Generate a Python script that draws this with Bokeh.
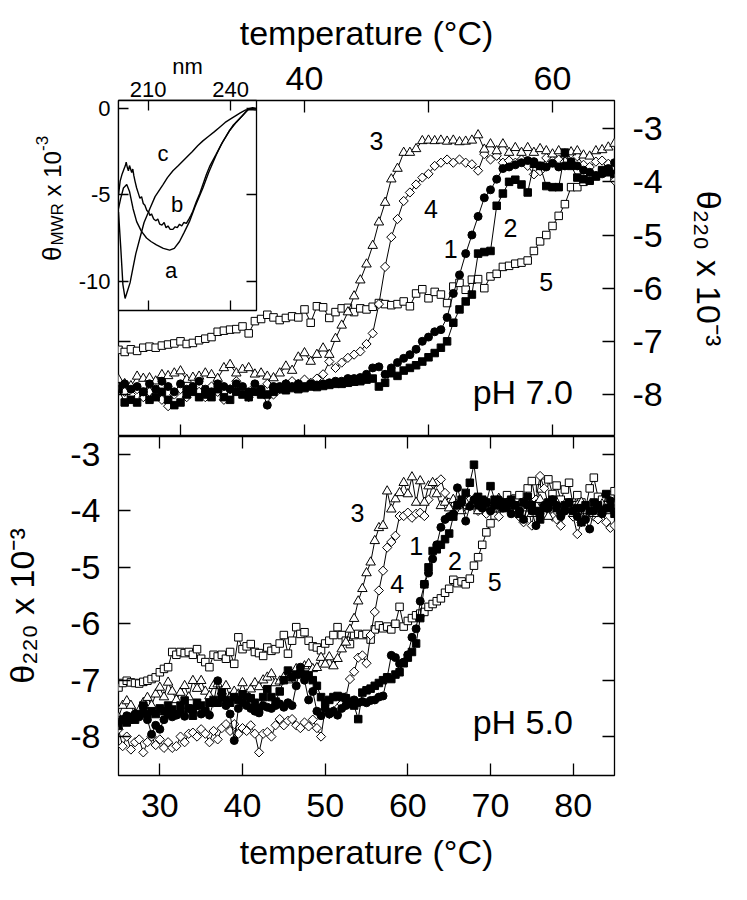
import numpy as np
from bokeh.plotting import figure
from bokeh.models import LinearAxis, FixedTicker, Range1d, Label, GridBox
from bokeh.embed import file_html
from bokeh.resources import INLINE

FONT = "Liberation Sans"

# ---------------- data ----------------
# sampling grids (instrument steps of 0.5 degC)
T_TOP = np.arange(25.0, 65.01, 0.5)   # pH 7.0 panel
T_BOT = np.arange(25.0, 85.01, 0.5)   # pH 5.0 panel

# pH 7.0 (top panel), theta220 x 1e-3
top_s1 = [-7.85, -7.80, -7.90, -7.85, -7.95, -7.80, -7.90, -7.75, -7.85, -7.95,
          -7.80, -7.90, -7.85, -7.75, -7.90, -7.95, -7.80, -7.85, -7.90, -7.80,
          -7.85, -7.95, -7.80, -7.90, -8.20, -7.85, -7.85, -7.80, -7.85, -7.80,
          -7.85, -7.80, -7.82, -7.80, -7.78, -7.75, -7.75, -7.70, -7.70, -7.68,
          -7.62, -7.50, -7.48, -7.62, -7.50, -7.40, -7.32, -7.25, -7.15, -7.00,
          -6.92, -6.82, -6.78, -6.55, -6.10, -5.75, -5.35, -5.00, -4.65, -4.30,
          -4.15, -3.95, -3.75, -3.72, -3.68, -3.64, -3.60, -3.62, -3.70, -3.72,
          -3.65, -3.72, -3.70, -3.62, -3.70, -3.78, -3.82, -3.88, -3.85, -3.75,
          -3.64]
top_s2 = [-7.90, -8.15, -8.10, -8.15, -7.95, -8.10, -8.05, -7.95, -8.10, -8.20,
          -8.15, -8.00, -7.95, -8.05, -8.00, -8.05, -7.90, -8.05, -8.10, -7.95,
          -8.00, -8.05, -7.95, -8.00, -8.00, -7.95, -7.90, -7.92, -7.88, -7.90,
          -7.88, -7.85, -7.86, -7.84, -7.82, -7.80, -7.80, -7.78, -7.76, -7.75,
          -7.72, -7.70, -7.85, -7.78, -7.60, -7.65, -7.55, -7.50, -7.45, -7.38,
          -7.30, -7.22, -7.12, -7.00, -6.65, -6.40, -6.25, -6.12, -5.35, -5.32,
          -5.30, -4.45, -4.22, -4.00, -3.96, -4.05, -4.20, -3.66, -3.70, -4.08,
          -4.10, -4.10, -3.45, -3.70, -3.92, -3.95, -3.98, -3.90, -3.78, -3.82,
          -3.85]
top_s3 = [-7.72, -7.80, -7.84, -7.66, -7.70, -7.69, -7.75, -7.63, -7.65, -7.60,
          -7.56, -7.72, -7.68, -7.66, -7.60, -7.63, -7.70, -7.50, -7.44, -7.60,
          -7.53, -7.50, -7.62, -7.60, -7.66, -7.69, -7.60, -7.47, -7.55, -7.30,
          -7.22, -7.38, -7.25, -7.13, -7.25, -6.95, -6.70, -6.45, -6.15, -5.85,
          -5.55, -5.20, -4.76, -4.39, -3.95, -3.75, -3.45, -3.45, -3.38, -3.23,
          -3.22, -3.23, -3.22, -3.24, -3.22, -3.25, -3.24, -3.22, -3.12, -3.39,
          -3.29, -3.42, -3.29, -3.45, -3.36, -3.45, -3.36, -3.45, -3.38, -3.42,
          -3.48, -3.42, -3.48, -3.44, -3.42, -3.50, -3.52, -3.42, -3.40, -3.35,
          -3.28]
top_s4 = [-7.85, -7.95, -8.00, -7.90, -8.05, -7.95, -8.00, -8.10, -8.22, -8.00,
          -7.90, -8.05, -7.90, -7.95, -8.05, -7.85, -7.95, -8.10, -7.90, -7.75,
          -7.95, -8.05, -7.85, -7.95, -7.80, -8.00, -7.90, -7.80, -7.75, -7.80,
          -7.72, -7.78, -7.70, -7.62, -7.38, -7.50, -7.40, -7.31, -7.25, -7.19,
          -7.05, -6.85, -6.30, -5.60, -5.04, -4.70, -4.36, -4.20, -4.05, -3.92,
          -3.85, -3.70, -3.64, -3.58, -3.64, -3.58, -3.64, -3.67, -3.79, -3.48,
          -3.58, -3.51, -3.64, -3.60, -3.64, -3.58, -3.70, -3.86, -3.80, -3.55,
          -3.60, -3.58, -3.62, -3.64, -3.52, -3.68, -3.72, -3.62, -3.60, -3.66,
          -3.98]
top_s5 = [-7.16, -7.20, -7.15, -7.18, -7.12, -7.10, -7.12, -7.08, -7.06, -7.04,
          -7.00, -7.05, -7.03, -6.98, -6.95, -6.92, -6.82, -6.80, -6.78, -6.77,
          -6.72, -6.85, -6.62, -6.58, -6.50, -6.55, -6.60, -6.56, -6.53, -6.55,
          -6.40, -6.65, -6.34, -6.36, -6.56, -6.45, -6.38, -6.37, -6.45, -6.38,
          -6.40, -6.35, -6.28, -6.30, -6.32, -6.30, -6.25, -6.34, -6.10, -6.02,
          -6.19, -6.07, -6.12, -6.28, -5.97, -5.90, -6.03, -5.84, -5.83, -6.00,
          -5.78, -5.73, -5.60, -5.58, -5.54, -5.52, -5.48, -5.30, -5.12, -5.00,
          -4.83, -4.64, -4.42, -4.10, -4.10, -4.00, -3.95, -3.89, -3.82, -3.76,
          -3.92]

# pH 5.0 (bottom panel)
bot_s1 = [-7.75, -7.70, -7.63, -7.70, -7.60, -7.65, -7.57, -7.70, -7.96, -7.80,
          -7.87, -7.70, -7.60, -7.65, -7.62, -7.55, -7.64, -7.50, -7.55, -7.45,
          -7.60, -7.55, -7.62, -7.40, -7.01, -7.30, -7.45, -7.60, -8.07, -7.50,
          -7.40, -7.45, -7.50, -7.55, -7.58, -7.45, -7.48, -7.50, -7.45, -7.42,
          -7.48, -7.40, -7.45, -7.10, -6.77, -7.00, -7.35, -7.20, -7.55, -7.63,
          -7.50, -7.60, -7.55, -7.62, -7.50, -7.45, -7.42, -7.35, -7.40, -7.38,
          -7.40, -7.36, -7.35, -7.30, -7.28, -6.95, -6.56, -6.60, -6.71, -6.68,
          -6.55, -6.24, -6.09, -5.60, -5.30, -5.10, -4.85, -4.60, -4.29, -4.15,
          -4.10, -4.05, -3.59, -3.85, -4.18, -3.92, -3.80, -3.90, -3.95, -3.85,
          -4.00, -3.90, -3.80, -3.95, -3.88, -4.05, -3.90, -4.00, -4.15, -3.90,
          -4.00, -4.26, -4.05, -3.90, -3.95, -3.80, -3.90, -4.10, -4.00, -3.85,
          -4.00, -4.10, -3.95, -4.15, -4.32, -4.00, -3.90, -4.05, -3.95, -3.82,
          -3.90]
bot_s2 = [-7.81, -7.70, -7.75, -7.65, -7.70, -7.60, -7.45, -7.60, -7.55, -7.60,
          -7.50, -7.55, -7.45, -7.52, -7.60, -7.45, -7.36, -7.50, -7.63, -7.40,
          -7.45, -7.55, -7.40, -7.35, -7.40, -7.22, -7.35, -7.40, -7.30, -7.35,
          -7.25, -7.30, -7.32, -7.40, -7.50, -7.30, -7.16, -7.30, -7.38, -7.20,
          -7.00, -6.83, -6.95, -6.90, -6.88, -6.90, -6.92, -7.00, -7.10, -7.30,
          -7.40, -7.35, -7.30, -7.28, -7.30, -7.32, -7.40, -7.45, -7.69, -7.22,
          -7.18, -7.15, -7.10, -7.05, -7.00, -6.95, -6.98, -6.90, -6.86, -6.70,
          -6.60, -6.50, -6.35, -5.90, -5.30, -5.00, -4.71, -4.68, -4.60, -4.50,
          -4.40, -4.10, -3.90, -3.80, -3.68, -3.50, -3.18, -3.75, -3.80, -3.85,
          -3.56, -3.80, -3.90, -3.85, -3.95, -3.80, -3.90, -4.05, -3.85, -3.75,
          -3.90, -4.00, -4.15, -3.95, -3.85, -3.80, -3.95, -4.05, -3.90, -3.85,
          -4.00, -3.95, -4.20, -3.90, -4.00, -3.85, -3.90, -4.00, -3.70, -3.95,
          -4.05]
bot_s3 = [-7.66, -7.45, -7.37, -7.45, -7.60, -7.54, -7.40, -7.31, -7.45, -7.25,
          -7.13, -7.30, -7.04, -7.20, -7.35, -7.22, -7.10, -7.30, -7.01, -7.15,
          -7.01, -7.20, -7.28, -7.10, -7.07, -7.20, -7.10, -7.30, -7.20, -7.25,
          -7.05, -7.25, -7.16, -7.05, -7.12, -7.00, -6.95, -6.89, -7.05, -7.02,
          -6.95, -7.00, -6.90, -6.80, -6.85, -6.75, -6.71, -6.80, -6.78, -6.60,
          -6.72, -6.59, -6.75, -6.62, -6.45, -6.33, -6.10, -5.91, -5.60, -5.38,
          -5.10, -4.91, -4.53, -4.30, -4.26, -3.65, -3.97, -3.79, -3.68, -3.50,
          -3.70, -3.40, -3.85, -3.47, -3.85, -3.56, -3.50, -3.70, -3.91, -3.85,
          -3.95, -3.80, -3.90, -4.00, -3.85, -3.92, -3.80, -4.00, -3.90, -3.85,
          -3.95, -3.88, -3.78, -3.95, -3.90, -3.82, -4.00, -3.90, -3.85, -3.95,
          -4.05, -3.90, -3.80, -3.95, -4.10, -3.90, -3.85, -4.00, -3.88, -3.95,
          -4.05, -3.90, -3.85, -4.00, -3.90, -4.05, -3.95, -3.88, -4.00, -3.95,
          -3.90]
bot_s4 = [-7.87, -8.17, -8.00, -8.23, -8.10, -8.05, -8.28, -8.10, -8.00, -8.15,
          -8.05, -8.20, -8.10, -8.20, -8.17, -8.00, -8.10, -7.95, -7.93, -8.00,
          -7.87, -7.95, -8.10, -7.90, -8.05, -7.85, -7.78, -7.90, -7.78, -7.95,
          -7.85, -7.90, -7.80, -7.95, -8.28, -7.95, -7.92, -8.00, -7.80, -7.69,
          -7.80, -7.72, -7.69, -7.80, -7.85, -7.75, -7.82, -7.70, -7.85, -8.00,
          -7.51, -7.60, -7.55, -7.50, -7.42, -7.30, -6.98, -6.85, -6.60, -6.56,
          -6.70, -6.20, -5.79, -5.41, -5.06, -4.65, -4.55, -4.44, -4.09, -4.09,
          -4.03, -4.12, -4.05, -4.03, -4.09, -3.80, -3.53, -3.50, -3.44, -3.68,
          -3.85, -3.85, -3.95, -3.97, -3.90, -3.80, -3.85, -4.00, -3.97, -4.05,
          -3.90, -3.95, -4.10, -3.90, -3.85, -4.00, -3.95, -4.10, -4.20, -3.90,
          -4.26, -3.80, -3.38, -3.60, -3.90, -4.10, -4.15, -4.26, -4.00, -3.95,
          -4.10, -4.41, -4.20, -4.05, -3.90, -4.10, -4.15, -4.00, -4.20, -4.30,
          -4.26]
bot_s5 = [-7.13, -7.05, -7.01, -7.04, -7.05, -7.06, -7.03, -7.01, -6.98, -6.95,
          -6.86, -6.80, -6.77, -6.50, -6.55, -6.50, -6.52, -6.50, -6.55, -6.45,
          -6.62, -6.68, -6.77, -6.55, -6.58, -6.55, -6.62, -6.50, -6.71, -6.24,
          -6.45, -6.40, -6.36, -6.50, -6.52, -6.57, -6.42, -6.48, -6.45, -6.35,
          -6.20, -6.53, -6.30, -6.06, -6.18, -6.15, -6.30, -6.40, -6.42, -6.47,
          -6.35, -6.30, -6.20, -6.06, -6.20, -6.30, -6.36, -6.20, -6.18, -6.20,
          -6.18, -6.28, -6.10, -6.03, -6.08, -6.05, -6.10, -6.00, -5.70, -6.05,
          -5.95, -5.90, -5.85, -5.82, -5.79, -5.70, -5.65, -5.60, -5.55, -5.45,
          -5.38, -5.22, -5.28, -5.25, -5.30, -5.20, -4.97, -4.82, -4.60, -4.38,
          -4.22, -4.08, -3.95, -3.85, -3.72, -3.90, -3.78, -3.72, -3.85, -3.60,
          -3.47, -3.85, -3.60, -3.50, -3.44, -3.70, -3.55, -3.80, -3.62, -3.50,
          -3.90, -3.72, -3.85, -3.95, -3.60, -3.41, -3.75, -3.80, -3.90, -3.72,
          -3.65]

# inset CD spectra (nm, theta_MWR x 1e-3)
spec_a_nm = [199.2, 200.0, 201.0, 202.2, 203.2, 204.5, 205.8, 207.5, 209.4, 211.0, 213.0,
             215.5, 217.8, 219.5, 221.4, 223.0, 225.0, 227.0, 229.9, 232.0, 234.7, 237.0,
             239.5, 242.0, 244.3, 246.7, 249.4]
spec_a_val = [-5.8, -5.2, -4.6, -4.4, -4.8, -5.8, -6.55, -7.1, -7.5, -7.7, -7.9,
              -8.1, -8.2, -8.1, -7.7, -7.2, -6.55, -5.7, -4.6, -3.7, -2.7, -1.95,
              -1.3, -0.8, -0.4, 0.0, 0.0]
spec_b_nm = [199.2, 199.8, 200.5, 201.2, 201.7, 202.0, 202.4, 202.8, 203.2, 203.6, 204.0,
             204.4, 204.8, 205.2, 205.8, 206.4, 207.0, 207.6, 208.2, 208.8, 209.5, 210.2,
             210.6, 211.2, 212.0, 212.8, 213.5, 214.2, 215.0, 215.8, 216.5, 217.2, 218.0,
             219.0, 219.8, 220.6, 221.4, 222.2, 223.0, 223.9, 224.8, 225.5, 226.2, 227.5,
             228.8, 229.9, 231.2, 232.5, 234.7, 236.5, 238.0, 239.5, 241.0, 242.5, 244.3,
             245.5, 246.7, 248.0, 249.4]
spec_b_val = [-5.0, -4.2, -3.8, -3.5, -3.3, -3.1, -3.4, -3.6, -3.3, -3.5, -3.7,
              -3.5, -3.9, -4.2, -4.6, -4.9, -5.2, -5.1, -5.5, -5.6, -5.9, -6.0,
              -6.2, -6.1, -6.4, -6.5, -6.4, -6.7, -6.75, -6.6, -6.9, -6.8, -7.0,
              -7.0, -6.85, -6.9, -6.7, -6.8, -6.6, -6.65, -6.4, -6.2, -5.96, -5.4,
              -4.9, -4.4, -3.8, -3.3, -2.65, -2.1, -1.7, -1.29, -0.95, -0.7, -0.41,
              -0.2, 0.0, 0.05, 0.0]
spec_c_nm = [199.2, 200.0, 200.8, 201.6, 202.4, 203.4, 204.5, 205.5, 207.0, 208.5, 210.6,
             212.5, 215.4, 217.0, 219.0, 221.0, 223.8, 226.0, 228.0, 229.9, 232.0, 234.0,
             235.9, 238.0, 240.0, 241.9, 243.5, 245.5, 247.0, 249.4]
spec_c_val = [-6.0, -8.0, -10.2, -11.0, -10.6, -10.1, -9.2, -8.4, -7.5, -6.6, -5.8,
              -5.1, -4.4, -4.0, -3.6, -3.3, -2.85, -2.5, -2.15, -1.87, -1.6, -1.35,
              -1.09, -0.8, -0.6, -0.41, -0.25, -0.08, -0.05, -0.08]

# ticks
TOP_T_TICKS = [30, 40, 50, 60]
TOP_T_LABELS = {30: "", 50: ""}
BOT_T_TICKS = [30, 40, 50, 60, 70, 80]
THETA_TICKS = [-3, -4, -5, -6, -7, -8]
NM_TICKS = [210, 240]
SPEC_TICKS = [0, -5, -10]

X_TITLE = "temperature (°C)"
Y_TITLE = "θ₂₂₀ x 10⁻³"

# ---------------- helpers ----------------
def new_fig(w, h, xr, yr, left, right, top, bottom, border_fill="white",
            bg="white", outline="black"):
    p = figure(width=w, height=h, x_range=Range1d(*xr), y_range=Range1d(*yr),
               x_axis_location=None, y_axis_location=None, title=None,
               toolbar_location=None, output_backend="svg",
               min_border_left=left, min_border_right=right,
               min_border_top=top, min_border_bottom=bottom)
    p.grid.grid_line_color = None
    p.outline_line_color = outline
    p.outline_line_width = 1.3
    p.outline_line_alpha = 1.0
    p.background_fill_color = bg
    p.border_fill_color = border_fill
    return p


def hyphen_labels(ticks):
    return {t: str(t) for t in ticks}


def add_axis(p, side, ticks, fs=None, standoff=0, overrides=None, title=None,
             title_fs="34px", title_standoff=0, tick_len=12):
    ax = LinearAxis(ticker=FixedTicker(ticks=ticks))
    ax.major_tick_in = tick_len
    ax.major_tick_out = 0
    ax.minor_tick_in = 0
    ax.minor_tick_out = 0
    ax.axis_line_color = None
    ax.major_tick_line_color = "black"
    ax.major_tick_line_width = 1.3
    ax.major_label_text_font = FONT
    ax.major_label_text_color = "black"
    if fs is None:
        ax.major_label_text_font_size = "0px"
        ax.major_label_standoff = 0
        ax.major_label_overrides = {t: "" for t in ticks}
    else:
        ax.major_label_text_font_size = fs
        ax.major_label_standoff = standoff
        ax.major_label_overrides = overrides if overrides else hyphen_labels(ticks)
    if title is not None:
        ax.axis_label = title
        ax.axis_label_text_font = FONT
        ax.axis_label_text_font_size = title_fs
        ax.axis_label_text_font_style = "normal"
        ax.axis_label_text_color = "black"
        ax.axis_label_standoff = title_standoff
    p.add_layout(ax, side)
    return ax


STYLE = {
    1: dict(marker="circle", size=8, fill="black", angle=0.0),
    2: dict(marker="square", size=7.5, fill="black", angle=0.0),
    3: dict(marker="triangle", size=9.5, fill="white", angle=0.0),
    4: dict(marker="square", size=6.5, fill="white", angle=np.pi / 4),
    5: dict(marker="square", size=7.5, fill="white", angle=0.0),
}


def draw_series(p, x, y, key):
    st = STYLE[key]
    p.line(x, y, line_color="black", line_width=1)
    p.scatter(x, y, marker=st["marker"], size=st["size"], angle=st["angle"],
              fill_color=st["fill"], line_color="black", line_width=1)


def add_text(p, x, y, text, fs, **kw):
    p.add_layout(Label(x=x, y=y, text=text, text_font=FONT, text_font_size=fs,
                       text_color="black", **kw))


# ---------------- top panel (pH 7.0) ----------------
p_top = new_fig(730, 436, (25, 65), (-8.79, -2.47), 117, 113, 100, 0)
add_axis(p_top, "above", TOP_T_TICKS, fs="34px", standoff=11, overrides=TOP_T_LABELS,
         title=X_TITLE, title_standoff=12)
add_axis(p_top, "below", TOP_T_TICKS)
add_axis(p_top, "left", THETA_TICKS)
add_axis(p_top, "right", THETA_TICKS, fs="34px", standoff=18, title=Y_TITLE, title_standoff=24)

for key, ys in [(5, top_s5), (4, top_s4), (3, top_s3), (1, top_s1), (2, top_s2)]:
    draw_series(p_top, T_TOP, ys, key)

for txt, x, y in [("3", 45.8, -3.23), ("4", 50.2, -4.51), ("1", 51.8, -5.26),
                  ("2", 56.6, -4.86), ("5", 59.5, -5.89)]:
    add_text(p_top, x, y, txt, "25px", text_align="center", text_baseline="middle")
add_text(p_top, 57.6, -7.95, "pH 7.0", "34px", text_align="center", text_baseline="middle")

# ---------------- inset (CD spectra) ----------------
p_in = new_fig(272, 320, (199.2, 249.4), (-11.7, 0.47), 117, 16, 100, 10, border_fill=None)
add_axis(p_in, "above", NM_TICKS, fs="22px", standoff=4, title="nm", title_fs="22px",
         title_standoff=0, tick_len=10)
add_axis(p_in, "below", NM_TICKS, tick_len=10)
add_axis(p_in, "left", SPEC_TICKS, fs="22px", standoff=8, tick_len=10)
add_axis(p_in, "right", SPEC_TICKS, tick_len=10)

for nm, val in [(spec_a_nm, spec_a_val), (spec_b_nm, spec_b_val), (spec_c_nm, spec_c_val)]:
    p_in.line(nm, val, line_color="black", line_width=1.4)

for txt, x, y in [("c", 215.4, -2.63), ("b", 220.5, -5.56), ("a", 218.3, -9.36)]:
    add_text(p_in, x, y, txt, "22px", text_align="center", text_baseline="middle")

# rotated inset y title (theta_MWR x 10^-3), drawn in a transparent overlay panel
p_lab = new_fig(60, 160, (0, 60), (0, 160), 0, 0, 0, 0, border_fill=None, bg=None, outline=None)
rot = dict(angle=np.pi / 2, text_align="left", text_baseline="alphabetic")
add_text(p_lab, 31.5, 29.4, "θ", "26px", **rot)
add_text(p_lab, 36.5, 44.9, "MWR", "17px", **rot)
add_text(p_lab, 31.5, 94.1, "x 10", "24px", **rot)
add_text(p_lab, 21.5, 139.5, "-3", "17px", **rot)

# ---------------- bottom panel (pH 5.0) ----------------
p_bot = new_fig(730, 448, (25, 85), (-8.69, -2.68), 117, 113, 0, 109)
add_axis(p_bot, "above", BOT_T_TICKS)
add_axis(p_bot, "right", THETA_TICKS)
add_axis(p_bot, "left", THETA_TICKS, fs="34px", standoff=18, title=Y_TITLE, title_standoff=26)
add_axis(p_bot, "below", BOT_T_TICKS, fs="34px", standoff=18, title=X_TITLE, title_standoff=13)

for key, ys in [(5, bot_s5), (4, bot_s4), (3, bot_s3), (1, bot_s1), (2, bot_s2)]:
    draw_series(p_bot, T_BOT, ys, key)

for txt, x, y in [("3", 53.9, -4.03), ("1", 61.0, -4.62), ("2", 65.7, -4.88),
                  ("4", 58.7, -5.29), ("5", 70.5, -5.26)]:
    add_text(p_bot, x, y, txt, "25px", text_align="center", text_baseline="middle")
add_text(p_bot, 73.9, -7.75, "pH 5.0", "34px", text_align="center", text_baseline="middle")

# ---------------- layout (inset panels overlap the top panel) ----------------
layout = GridBox(children=[(p_top, 0, 0, 4, 4), (p_in, 0, 0, 3, 3), (p_lab, 1, 1, 1, 1),
                           (p_bot, 4, 0, 1, 4)],
                 rows=["130px", "160px", "30px", "116px", "448px"],
                 cols=["20px", "60px", "192px", "458px"])

open("out.html", "w").write(file_html(layout, INLINE))
